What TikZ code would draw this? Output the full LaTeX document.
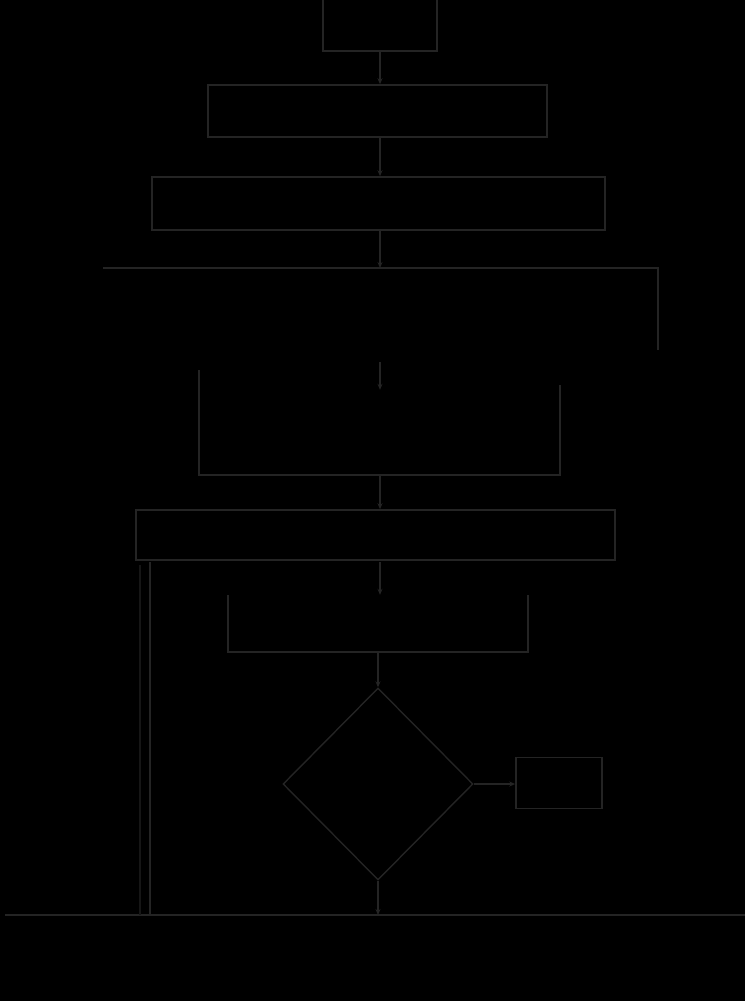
\documentclass[tikz,border=0pt]{standalone}
\usetikzlibrary{arrows.meta,shapes.geometric}
\definecolor{lc}{RGB}{36,36,36}
\definecolor{lcf}{RGB}{22,22,22}
\begin{document}
\begin{tikzpicture}[x=1pt,y=-1pt,
  box/.style={draw=lc,line width=1.6pt,minimum width=#1,inner sep=0pt,rectangle},
  ghost/.style={inner sep=0pt,minimum width=#1,rectangle},
  link/.style={draw=lc,line width=1.4pt,-{Stealth[length=6pt,width=5pt]}},
  seg/.style={draw=lc,line width=1.6pt}]
\fill[black] (0,0) rectangle (745,1001);
\useasboundingbox (0,0) rectangle (745,1001);
\begin{scope}
\clip (0,0) rectangle (745,1001);
\node[box=114pt,minimum height=62pt] (b1) at (380,20) {};
\end{scope}
\node[box=339pt,minimum height=52pt] (b2) at (377.5,111) {};
\node[box=453pt,minimum height=53pt] (b3) at (378.5,203.5) {};
\coordinate (hl) at (103,268);
\coordinate (hr) at (658,268);
\coordinate (hm) at (380,268);
\coordinate (hrd) at (658,350);
\draw[seg] (hl) -- (hr) -- (hrd);
\coordinate (a4s) at (380,362);
\node[ghost=361pt,minimum height=90pt] (b4) at (379.5,430) {};
\draw[seg] (b4.north east) -- (b4.south east) -- (b4.south west) -- ([yshift=15pt]b4.north west);
\node[box=479pt,minimum height=50pt] (b5) at (375.5,535) {};
\coordinate (a6s) at (380,562);
\node[ghost=300pt,minimum height=57pt] (b6) at (378,623.5) {};
\draw[seg] (b6.north east) -- (b6.south east) -- (b6.south west) -- (b6.north west);
\node[diamond,draw=lc,line width=1.4pt,minimum width=190pt,minimum height=192pt,inner sep=0pt,aspect=1] (d) at (378,784) {};
\node[box=86pt,minimum height=51pt] (b7) at (559,783) {};
\coordinate (bl) at (5,915);
\coordinate (br) at (745,915);
\coordinate (bm) at (378,915);
\draw[seg,line width=2pt] (bl) -- (br);
\coordinate (lv1) at (150,562);
\coordinate (lv2) at (150,915);
\draw[seg] (lv1) -- (lv2);
\draw[draw=lcf,line width=1.2pt] (140,565) -- (140,915);
\coordinate (cx) at (380,0);
\draw[link] (cx |- b1.south) -- (cx |- b2.north);
\draw[link] (cx |- b2.south) -- (cx |- b3.north);
\draw[link] (cx |- b3.south) -- (hm);
\draw[link] (a4s) -- ([yshift=-5pt]cx |- b4.north);
\draw[link] (cx |- b4.south) -- (cx |- b5.north);
\draw[link] (a6s) -- (a6s |- b6.north);
\draw[link] (d.north |- b6.south) -- (d.north);
\draw[link] (d.east) -- (d.east -| b7.west);
\draw[link] (d.south) -- (bm);
\end{tikzpicture}
\end{document}
